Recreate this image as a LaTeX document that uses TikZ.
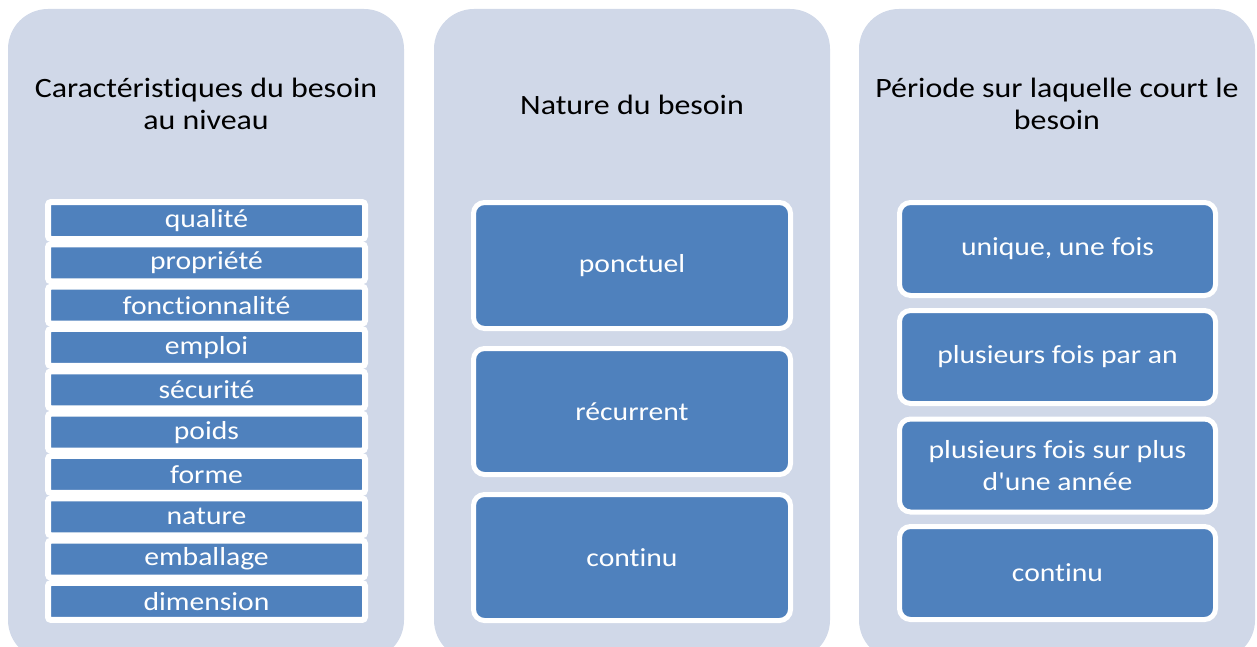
\documentclass[tikz,border=0pt]{standalone}
\usepackage{fontspec}
\setmainfont{Carlito}[FakeStretch=1.14, Ligatures={NoCommon,TeXOff}]
\definecolor{panelfill}{HTML}{D0D8E8}
\definecolor{itemblue}{HTML}{4F81BD}
\begin{document}
\begin{tikzpicture}[x=1pt,y=-1pt,
  panel/.style={fill=panelfill, rounded corners=40pt},
  title/.style={font=\fontsize{28}{32}\selectfont, align=center, text=black},
  bar/.style={fill=itemblue, draw=white, line width=6pt, rounded corners=3pt,
    text=white, font=\fontsize{26}{32}\selectfont, inner sep=0pt,
    minimum width=317pt, minimum height=37pt},
  card/.style={fill=itemblue, draw=white, line width=5pt, rounded corners=11pt,
    text=white, font=\fontsize{26}{32}\selectfont, align=center, inner sep=0pt,
    minimum width=317pt},
]
\useasboundingbox (0,0) rectangle (1257,647);
\begin{scope}
\clip (0,0) rectangle (1257,647);
% background panels
\fill[panel] (8,9) rectangle (404,660);
\fill[panel] (434,9) rectangle (830,660);
\fill[panel] (859,9) rectangle (1255,660);
\end{scope}

% first column: need characteristics
\node[title] (t1) at (206,104) {Caractéristiques du besoin\\au niveau};
\foreach \lbl [count=\i from 0] in {qualité,propriété,fonctionnalité,emploi,sécurité,poids,forme,nature,emballage,dimension}
  \node[bar] (b\i) at (206.5,220.5+42.33*\i) {\lbl};

% second column: nature of the need
\node[title] (t2) at (632,105) {Nature du besoin};
\node[card, minimum height=126pt] (c1) at (632,265.5) {ponctuel};
\node[card, minimum height=126pt] (c2) at (632,411.5) {récurrent};
\node[card, minimum height=126pt] (c3) at (632,557.5) {continu};

% third column: period covered by the need
\node[title] (t3) at (1057,104) {Période sur laquelle court le\\besoin};
\node[card, minimum height=93pt, minimum width=316pt] (p1) at (1057.5,249) {unique, une fois};
\node[card, minimum height=93pt, minimum width=316pt] (p2) at (1057.5,357) {plusieurs fois par an};
\node[card, minimum height=93pt, minimum width=316pt] (p3) at (1057.5,465.5) {plusieurs fois sur plus\\d'une année};
\node[card, minimum height=93pt, minimum width=316pt] (p4) at (1057.5,573) {continu};
\end{tikzpicture}
\end{document}
